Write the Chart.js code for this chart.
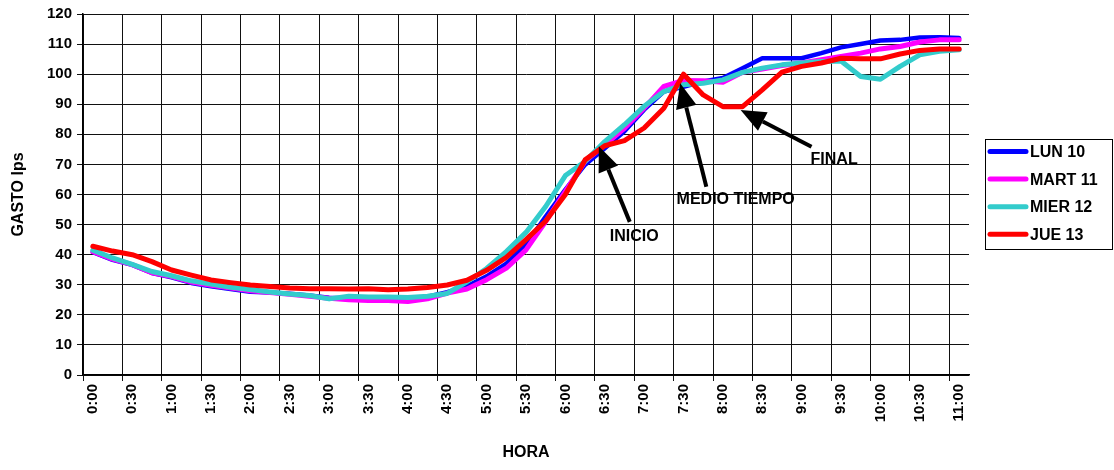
<!DOCTYPE html>
<html><head><meta charset="utf-8">
<script src="https://cdn.jsdelivr.net/npm/chart.js@4/dist/chart.umd.min.js"></script>
<style>html,body{margin:0;padding:0;background:#fff;}#wrap{width:1114px;height:470px;}</style>
</head><body><div id="wrap"><canvas id="c" width="1114" height="470"></canvas></div>
<script>
const categories = ["0:00","0:15","0:30","0:45","1:00","1:15","1:30","1:45","2:00","2:15","2:30","2:45",
"3:00","3:15","3:30","3:45","4:00","4:15","4:30","4:45","5:00","5:15","5:30","5:45",
"6:00","6:15","6:30","6:45","7:00","7:15","7:30","7:45","8:00","8:15","8:30","8:45",
"9:00","9:15","9:30","9:45","10:00","10:15","10:30","10:45","11:00"];
const seriesNames = ["LUN 10","MART 11","MIER 12","JUE 13"];
const lun10 = [40.8,38.3,36.6,33.9,32.5,30.6,29.5,28.6,27.7,27.4,27.0,26.4,25.7,25.5,25.5,25.4,25.3,26.0,27.5,29.5,32.8,37.0,43.3,52.7,61.6,69.9,75.4,81.0,88.2,94.2,95.8,97.6,98.7,102.0,105.3,105.3,105.3,107.0,108.9,110.0,111.2,111.4,112.2,112.3,112.0];
const mart11 = [41.0,38.5,36.7,34.0,32.7,30.9,29.8,28.9,28.0,27.4,26.8,26.2,25.5,25.0,24.8,24.8,24.4,25.3,27.2,28.6,31.7,35.5,41.6,51.0,61.0,71.0,76.5,82.0,88.7,95.9,97.9,97.8,97.3,100.6,101.7,102.9,103.7,104.8,105.9,107.0,108.4,109.2,110.7,111.4,111.4];
const mier12 = [41.5,38.9,36.8,34.4,33.0,31.3,30.2,29.2,28.4,27.6,26.9,26.4,25.3,26.2,25.9,25.9,25.8,26.2,27.1,31.0,35.4,41.0,47.4,56.0,66.3,71.0,77.6,83.2,89.3,94.2,96.5,97.0,98.1,100.6,102.0,103.1,103.7,104.2,104.4,99.2,98.3,102.6,106.4,107.6,108.1];
const jue13 = [42.8,41.2,40.0,37.7,34.9,33.2,31.6,30.7,29.9,29.4,28.9,28.7,28.7,28.6,28.7,28.3,28.6,29.1,29.9,31.5,34.8,39.1,45.0,51.2,60.0,71.5,76.2,77.9,82.1,88.7,100.0,93.1,89.2,89.2,94.8,100.7,102.6,103.7,105.3,105.1,105.1,106.7,107.9,108.4,108.4];
const yMin = 0, yMax = 120, yStep = 10;
const noteTexts = ["INICIO","MEDIO TIEMPO","FINAL"];
const noteTips = [[25.7,76.0],[29.83,97.0],[32.9,88.1]];
const noteTails = [[27.27,50.9],[31.16,62.6],[36.5,75.9]];
const noteLabelAt = [[27.5,45.9],[32.65,58.2],[37.65,71.5]];

const FONT = "'Liberation Sans', Arial, sans-serif";
const colors = ['#0000FF','#FF00FF','#33CCCC','#FF0000'];
const seriesData = [lun10, mart11, mier12, jue13];

const datasets = seriesData.map((d,i)=>({
  label: seriesNames[i], data: d, borderColor: colors[i], backgroundColor: colors[i],
  borderWidth: i===0?4.5:5, pointRadius: 0, tension: 0, fill: false, order: 3-i,
  borderJoinStyle: 'round', borderCapStyle: 'round'
}));

const gridColor = (ctx) => (ctx.index % 2 === 0 ? '#111' : 'rgba(0,0,0,0)');

const notesPlugin = {
  id: 'notes',
  afterDatasetsDraw(chart) {
    const {ctx, scales:{x,y}} = chart;
    ctx.save();
    for (let i=0;i<noteTexts.length;i++){
      const tx = x.getPixelForValue(noteTips[i][0]), ty = y.getPixelForValue(noteTips[i][1]);
      const sx = x.getPixelForValue(noteTails[i][0]), sy = y.getPixelForValue(noteTails[i][1]);
      const ang = Math.atan2(ty-sy, tx-sx);
      const L = 25, W = 10.5;
      const bx = tx - L*Math.cos(ang), by = ty - L*Math.sin(ang);
      ctx.strokeStyle = '#000'; ctx.lineWidth = 4; ctx.lineCap='butt';
      ctx.beginPath(); ctx.moveTo(sx,sy); ctx.lineTo(bx,by); ctx.stroke();
      ctx.fillStyle = '#000';
      ctx.beginPath(); ctx.moveTo(tx,ty);
      ctx.lineTo(bx + W*Math.sin(ang), by - W*Math.cos(ang));
      ctx.lineTo(bx - W*Math.sin(ang), by + W*Math.cos(ang));
      ctx.closePath(); ctx.fill();
      ctx.font = 'bold 16px ' + FONT; ctx.textAlign='center'; ctx.textBaseline='middle';
      ctx.fillText(noteTexts[i], x.getPixelForValue(noteLabelAt[i][0]), y.getPixelForValue(noteLabelAt[i][1]));
    }
    ctx.restore();
  }
};

const legendPlugin = {
  id: 'boxLegend',
  afterDraw(chart) {
    const {ctx} = chart;
    const bx = 985.5, by = 139.5, bw = 127, bh = 110;
    ctx.save();
    ctx.fillStyle = '#fff'; ctx.fillRect(bx,by,bw,bh);
    ctx.strokeStyle = '#000'; ctx.lineWidth = 1; ctx.strokeRect(bx,by,bw,bh);
    chart.data.datasets.forEach((ds,i)=>{
      const yy = 151.5 + i*27.6;
      ctx.strokeStyle = ds.borderColor; ctx.lineWidth = 5; ctx.lineCap='round';
      ctx.beginPath(); ctx.moveTo(990, yy); ctx.lineTo(1026, yy); ctx.stroke();
      ctx.fillStyle = '#000'; ctx.font = 'bold 16px ' + FONT;
      ctx.textAlign='left'; ctx.textBaseline='middle';
      ctx.fillText(ds.label, 1030, yy+1);
    });
    ctx.restore();
  }
};

new Chart(document.getElementById('c'), {
  type: 'line',
  data: { labels: categories, datasets },
  options: {
    responsive: false, animation: false, devicePixelRatio: 1,
    layout: { padding: { top: 14, right: 145, left: 0, bottom: 0 } },
    plugins: { legend: { display: false }, tooltip: { enabled: false } },
    scales: {
      x: {
        type: 'category', offset: true,
        grid: { offset: true, color: gridColor, tickColor: gridColor, lineWidth: 1, tickLength: 6, drawOnChartArea: true },
        border: { display: true, color: '#000', width: 1.5 },
        ticks: { autoSkip: false, minRotation: 90, maxRotation: 90, padding: 3, color: '#000',
          font: { family: FONT, size: 15, weight: 'bold' },
          callback: (v, i) => (i % 2 === 0 ? categories[i] : '') },
        title: { display: true, text: 'HORA', color: '#000', font: { family: FONT, size: 16, weight: 'bold' }, padding: { top: 0, bottom: 8 } },
        afterFit: (s) => { s.height = 95; }
      },
      y: {
        min: yMin, max: yMax,
        grid: { color: '#111', tickColor: '#111', lineWidth: 1, tickLength: 6 },
        border: { display: true, color: '#000', width: 1.5 },
        ticks: { stepSize: yStep, padding: 5, color: '#000', font: { family: FONT, size: 15, weight: 'bold' } },
        title: { display: true, text: 'GASTO lps', color: '#000', font: { family: FONT, size: 16, weight: 'bold' }, padding: { top: 9, bottom: 0 } },
        afterFit: (s) => { s.width = 83; }
      }
    }
  },
  plugins: [notesPlugin, legendPlugin]
});
</script></body></html>
